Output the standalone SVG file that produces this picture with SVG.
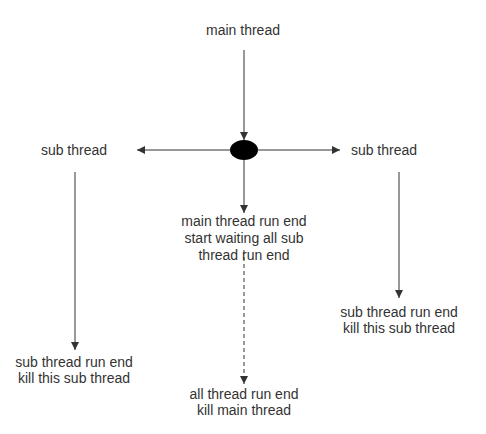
<svg xmlns="http://www.w3.org/2000/svg" width="486" height="434" viewBox="0 0 486 434">
<defs>
<marker id="arr" viewBox="0 0 10 10" refX="10" refY="5" markerWidth="8" markerHeight="8" markerUnits="userSpaceOnUse" orient="auto">
<path d="M0,0 L10,5 L0,10 Z" fill="#333"/>
</marker>
<style>
text{font-family:"Liberation Sans",Arial,sans-serif;font-size:14px;fill:#333;text-anchor:middle}
.c{stroke:#333;stroke-width:1;fill:none}
</style>
</defs>
<rect width="486" height="434" fill="#fff"/>
<g id="main-thread"><text x="243" y="35">main thread</text></g>
<g id="fork"><ellipse cx="244" cy="150" rx="14" ry="10" fill="#000"/></g>
<g id="sub-left"><text x="74" y="155">sub thread</text></g>
<g id="sub-right"><text x="384" y="155">sub thread</text></g>
<g id="main-end"><text x="244" y="226">main thread run end</text><text x="244" y="243">start waiting all sub</text><text x="244" y="260">thread run end</text></g>
<g id="left-end"><text x="74" y="367">sub thread run end</text><text x="74" y="383">kill this sub thread</text></g>
<g id="right-end"><text x="399" y="317">sub thread run end</text><text x="399" y="333">kill this sub thread</text></g>
<g id="all-end"><text x="244" y="399">all thread run end</text><text x="244" y="415">kill main thread</text></g>
<g id="connectors">
<line class="c" x1="244" y1="50" x2="244" y2="140" marker-end="url(#arr)"/>
<line class="c" x1="230" y1="150" x2="137" y2="150" marker-end="url(#arr)"/>
<line class="c" x1="258" y1="150" x2="340" y2="150" marker-end="url(#arr)"/>
<line class="c" x1="244" y1="160" x2="244" y2="213" marker-end="url(#arr)"/>
<line class="c" x1="244" y1="250" x2="244" y2="384" stroke-dasharray="4,3" marker-end="url(#arr)"/>
<line class="c" x1="75" y1="172" x2="75" y2="350" marker-end="url(#arr)"/>
<line class="c" x1="399" y1="172" x2="399" y2="298" marker-end="url(#arr)"/>
</g>
</svg>
